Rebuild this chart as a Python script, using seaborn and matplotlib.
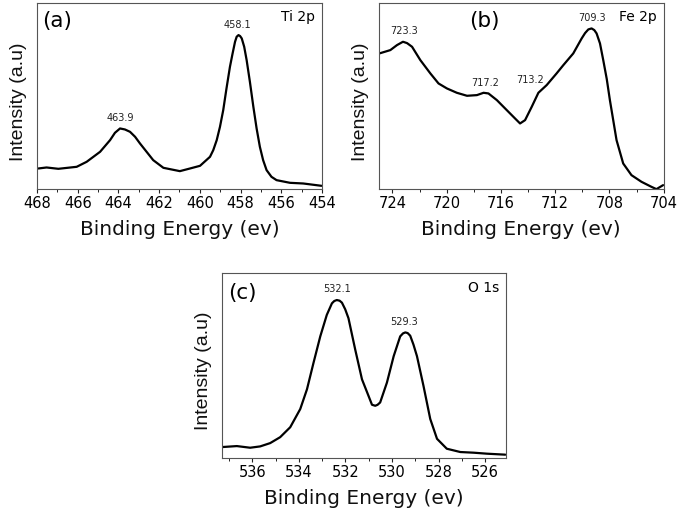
import matplotlib
matplotlib.use("Agg")
import matplotlib.pyplot as plt
from matplotlib.ticker import MultipleLocator
import seaborn as sns
import pandas as pd

# ---------------- data ----------------
ti_energy = [467.93, 467.53, 466.95, 466.05, 465.56, 464.90, 464.41, 464.17, 463.92,
             463.68, 463.43, 463.18, 462.94, 462.29, 461.79, 460.98, 460.48, 459.99,
             459.50, 459.34, 459.17, 459.01, 458.85, 458.69, 458.52, 458.39, 458.27,
             458.19, 458.10, 458.02, 457.94, 457.82, 457.70, 457.54, 457.37, 457.21,
             457.05, 456.89, 456.72, 456.48, 456.23, 455.57, 454.92, 454.02]
ti_int = [62, 65, 61, 67, 82, 112, 147, 169, 182, 179, 172, 157, 137, 87, 64, 54, 62, 70,
          97, 117, 147, 187, 237, 302, 367, 407, 442, 457, 462, 459, 452, 427, 387, 322,
          247, 182, 127, 87, 57, 37, 27, 19, 17, 10]

fe_energy = [724.96, 724.15, 723.66, 723.22, 722.92, 722.55, 721.94, 721.20, 720.60,
             719.98, 719.25, 718.50, 717.77, 717.28, 716.92, 716.30, 715.57, 714.96,
             714.59, 714.22, 713.73, 713.24, 712.63, 711.90, 711.40, 710.67, 710.05,
             709.80, 709.56, 709.32, 709.12, 708.95, 708.70, 708.46, 708.20, 707.97,
             707.48, 706.99, 706.38, 705.64, 704.91, 704.54, 704.05]
fe_int = [407, 417, 432, 442, 438, 427, 387, 347, 317, 302, 289, 280, 282, 289, 287, 267,
          237, 212, 197, 207, 247, 289, 312, 347, 372, 407, 452, 468, 479, 482, 477, 467,
          437, 387, 330, 267, 147, 77, 42, 22, 7, 0, 12]

o_energy = [537.30, 536.66, 536.09, 535.66, 535.23, 534.80, 534.37, 533.94, 533.65,
            533.37, 533.08, 532.80, 532.58, 532.48, 532.37, 532.25, 532.15, 532.01,
            531.87, 531.58, 531.29, 531.01, 530.86, 530.72, 530.62, 530.51, 530.22,
            529.93, 529.65, 529.53, 529.43, 529.33, 529.22, 529.08, 528.93, 528.65,
            528.36, 528.07, 527.65, 527.07, 526.50, 525.93, 525.14]
o_int = [33, 36, 31, 35, 45, 63, 93, 148, 208, 288, 368, 433, 468, 475, 478, 476, 470, 450,
         423, 328, 238, 188, 161, 158, 161, 168, 228, 308, 368, 377, 380, 378, 370, 343,
         308, 218, 118, 58, 28, 18, 16, 13, 10]

panels = ["(a)", "(b)", "(c)"]
elements = ["Ti 2p", "Fe 2p", "O 1s"]
ti_peaks = [(463.9, 463.92, 182), (458.1, 458.15, 462)]
fe_peaks = [(723.3, 723.17, 442), (717.2, 717.16, 287), (713.2, 713.85, 297), (709.3, 709.32, 482)]
o_peaks = [(532.1, 532.35, 478), (529.3, 529.50, 380)]

# ---------------- style ----------------
sns.set_theme(style="white")
plt.rcParams["font.family"] = ["DejaVu Sans"]

fig = plt.figure(figsize=(6.85, 5.14), dpi=100)
ax_a = fig.add_axes([0.054, 0.632, 0.416, 0.362])
ax_b = fig.add_axes([0.553, 0.632, 0.416, 0.362])
ax_c = fig.add_axes([0.324, 0.109, 0.415, 0.360])

specs = [
    (ax_a, ti_energy, ti_int, (468, 454), 2, 1, (0, 558), ti_peaks, (0.018, 0.955, "left"), (0.975, 0.965)),
    (ax_b, fe_energy, fe_int, (725, 704), 4, 2, (0, 558), fe_peaks, (0.37, 0.955, "center"), (0.975, 0.965)),
    (ax_c, o_energy, o_int, (537.3, 525.1), 2, 1, (0, 560), o_peaks, (0.022, 0.945, "left"), (0.975, 0.955)),
]

for i, (ax, en, it, xlim, major, minor, ylim, peaks, ppos, epos) in enumerate(specs):
    df = pd.DataFrame({"Binding Energy (ev)": en, "Intensity": it})
    sns.lineplot(data=df, x="Binding Energy (ev)", y="Intensity", ax=ax,
                 color="black", linewidth=1.6, sort=False, estimator=None)
    ax.set_xlim(*xlim)
    ax.set_ylim(*ylim)
    ax.xaxis.set_major_locator(MultipleLocator(major))
    ax.xaxis.set_minor_locator(MultipleLocator(minor))
    ax.set_yticks([])
    ax.tick_params(axis="x", which="major", direction="out", length=3, width=0.8,
                   labelsize=10.5, pad=2, colors="#222222", labelcolor="black", bottom=True)
    ax.tick_params(axis="x", which="minor", direction="out", length=2, width=0.7,
                   colors="#222222", bottom=True)
    for s in ax.spines.values():
        s.set_visible(True)
        s.set_color("#555555")
        s.set_linewidth(0.8)
    ax.set_xlabel("Binding Energy (ev)", fontsize=14.5, color="#111111")
    ax.set_ylabel("Intensity (a.u)", fontsize=14, color="#111111",
                  fontfamily="Liberation Sans")
    ax.xaxis.set_label_coords(0.5, -0.165)
    ax.yaxis.set_label_coords(-0.035, 0.47)
    ax.text(ppos[0], ppos[1], panels[i], transform=ax.transAxes, fontsize=15.5,
            ha=ppos[2], va="top", color="black")
    ax.text(epos[0], epos[1], elements[i], transform=ax.transAxes, fontsize=10,
            ha="right", va="top", color="black")
    for lab, xe, ye in peaks:
        ax.annotate(f"{lab}", xy=(xe, ye), xytext=(0, 4), textcoords="offset points",
                    ha="center", va="bottom", fontsize=7, color="#222222")

fig.savefig("out.png", dpi=100)
